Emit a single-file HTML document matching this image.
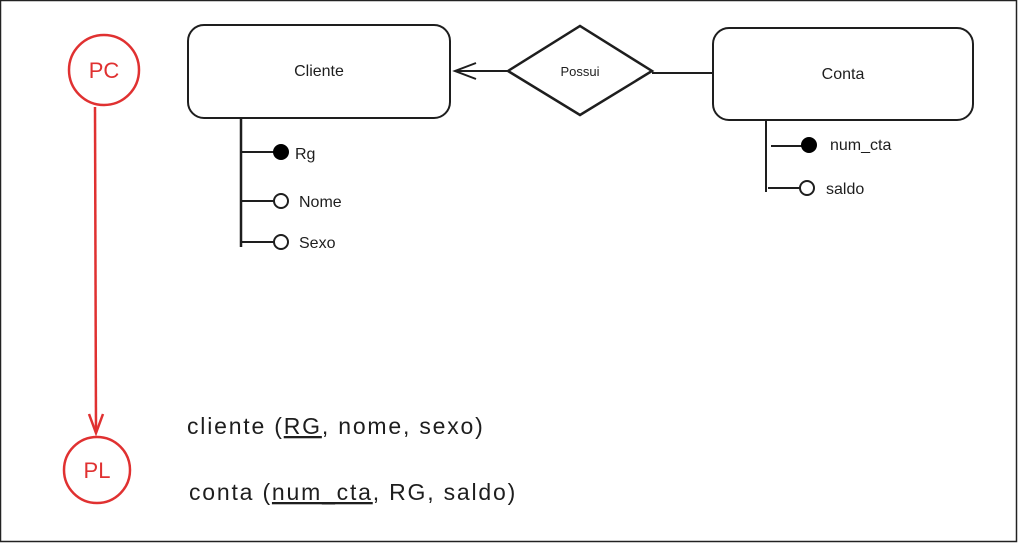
<!DOCTYPE html>
<html><head><meta charset="utf-8"><style>
html,body{margin:0;padding:0;background:#fff;}
svg{display:block;}
text{font-family:"Liberation Sans",sans-serif;}
</style></head><body>
<svg width="1018" height="543" viewBox="0 0 1018 543" xmlns="http://www.w3.org/2000/svg">
<rect x="0.5" y="0.5" width="1016" height="541" fill="#fff" stroke="#222" stroke-width="1.5"/>
<g fill="none" stroke="#1e1e1e" stroke-width="2">
<rect x="188" y="25" width="262" height="93" rx="16"/>
<rect x="713" y="28" width="260" height="92" rx="16"/>
<polygon points="508,71 580,26 652,71 580,115" stroke-width="2.5"/>
<line x1="508" y1="71" x2="455" y2="71"/>
<polyline points="476,63 455,71 476,79"/>
<line x1="652" y1="73" x2="713" y2="73"/>
<line x1="241" y1="118" x2="241" y2="247" stroke-width="2.5"/>
<line x1="241" y1="152" x2="275" y2="152"/>
<line x1="241" y1="201" x2="274" y2="201"/>
<line x1="241" y1="242" x2="274" y2="242"/>
<circle cx="281" cy="201" r="7"/>
<circle cx="281" cy="242" r="7"/>
<line x1="766" y1="120" x2="766" y2="192"/>
<line x1="771" y1="146" x2="802" y2="146"/>
<line x1="768" y1="188" x2="800" y2="188"/>
<circle cx="807" cy="188" r="7"/>
</g>
<circle cx="281" cy="152" r="8" fill="#000"/>
<circle cx="809" cy="145" r="8" fill="#000"/>
<g fill="none" stroke="#e03131" stroke-width="2.5">
<circle cx="104" cy="70" r="35"/>
<circle cx="97" cy="470" r="33"/>
<line x1="95" y1="107" x2="96" y2="432"/>
<polyline points="89,414 96,433 103,414"/>
</g>
<g font-size="16" fill="#1e1e1e">
<text x="319" y="76" text-anchor="middle">Cliente</text>
<text x="580" y="76" text-anchor="middle" font-size="13">Possui</text>
<text x="843" y="79" text-anchor="middle">Conta</text>
<text x="295" y="159">Rg</text>
<text x="299" y="207">Nome</text>
<text x="299" y="248">Sexo</text>
<text x="830" y="150">num_cta</text>
<text x="826" y="194">saldo</text>
</g>
<g font-size="22" fill="#e03131">
<text x="104" y="78" text-anchor="middle">PC</text>
<text x="97" y="478" text-anchor="middle">PL</text>
</g>
<g font-size="23" fill="#1e1e1e" letter-spacing="1.8">
<text x="187" y="434">cliente (<tspan text-decoration="underline">RG</tspan>, nome, sexo)</text>
<text x="189" y="500">conta (<tspan text-decoration="underline">num_cta</tspan>, RG, saldo)</text>
</g>
</svg>
</body></html>
